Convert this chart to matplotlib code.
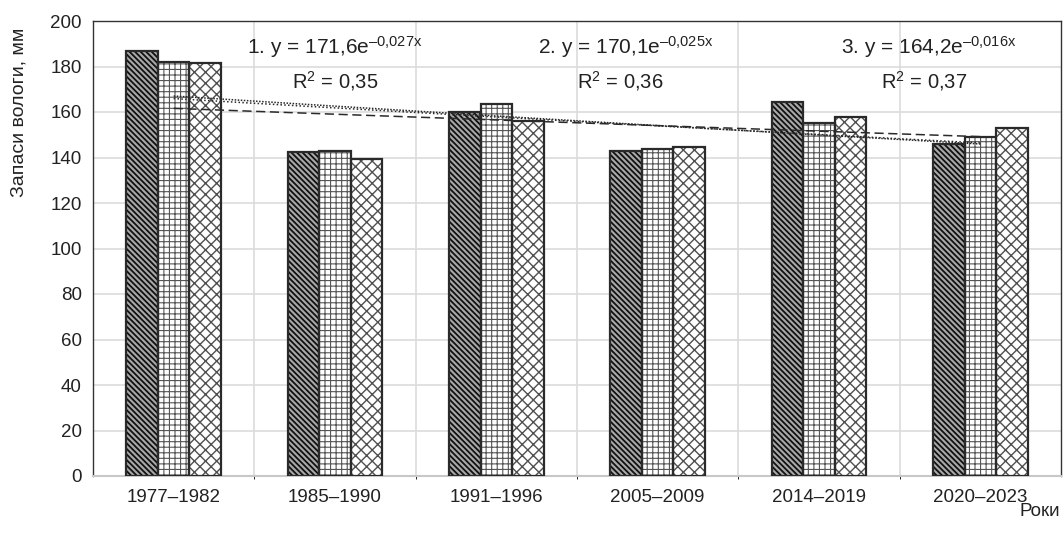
import matplotlib
matplotlib.use("Agg")
import matplotlib.pyplot as plt
import numpy as np

plt.rcParams['font.family'] = ['Liberation Sans', 'DejaVu Sans']
plt.rcParams['mathtext.fontset'] = 'custom'
plt.rcParams['mathtext.rm'] = 'Liberation Sans'
plt.rcParams['mathtext.it'] = 'Liberation Sans'
plt.rcParams['mathtext.default'] = 'regular'

categories = ["1977–1982", "1985–1990", "1991–1996", "2005–2009", "2014–2019", "2020–2023"]
series1 = [186.8, 142.3, 160.0, 142.9, 164.3, 145.9]
series2 = [182.1, 143.0, 163.5, 143.6, 155.3, 148.9]
series3 = [181.7, 139.5, 156.0, 144.8, 157.9, 152.8]
trend_a = [171.6, 170.1, 164.2]
trend_b = [-0.027, -0.025, -0.016]
r2 = ["0,35", "0,36", "0,37"]
eq_b_text = ["–0{,}027x", "–0{,}025x", "–0{,}016x"]
eq_a_text = ["171,6", "170,1", "164,2"]
y_ticks = [0, 20, 40, 60, 80, 100, 120, 140, 160, 180, 200]

fig = plt.figure(figsize=(10.63, 5.34), dpi=100)
ax = fig.add_axes([93/1063, 1-476/534, (1061-93)/1063, (476-21)/534])

x = np.arange(len(categories))
w = 0.195
styles = [
    dict(hatch='\\\\\\\\\\\\', hc='#111111', fc='#a8a8a8', hlw=1.3),
    dict(hatch='+++', hc='#555555', fc='white', hlw=0.8),
    dict(hatch='xxx', hc='#505050', fc='white', hlw=1.0),
]
for i, (vals, st) in enumerate(zip([series1, series2, series3], styles)):
    pos = x + (i - 1) * w
    plt.rcParams['hatch.linewidth'] = st['hlw']
    ax.bar(pos, vals, w, color=st['fc'], edgecolor=st['hc'], hatch=st['hatch'],
           linewidth=0, zorder=3)
    ax.bar(pos, vals, w, fill=False, edgecolor='#2a2a2a', linewidth=1.6, zorder=4)

# trend lines
xt = np.linspace(0, 5, 100)
ls = [(0, (1, 1)), (0, (1, 1.5)), (0, (6, 3))]
for a, b, l in zip(trend_a, trend_b, ls):
    ax.plot(xt, a * np.exp(b * (xt + 1)), color='#2a2a2a', lw=1.1, linestyle=l, zorder=5)

# annotations
eq_x = [1.0, 2.80, 4.68]
r2_x = [1.0, 2.77, 4.65]
for k in range(3):
    ax.text(eq_x[k], 188.5, f"{k+1}. y = {eq_a_text[k]}e$^{{{eq_b_text[k]}}}$",
            ha='center', va='center', fontsize=15, color='#222222', zorder=6)
    ax.text(r2_x[k], 173.5, f"R$^{{2}}$ = {r2[k]}",
            ha='center', va='center', fontsize=14.5, color='#222222', zorder=6)

ax.set_xlim(-0.5, 5.5)
ax.set_ylim(0, 200)
ax.set_yticks(y_ticks)
ax.set_xticks(x)
ax.set_xticklabels(categories)
ax.set_xticks(np.arange(0.5, 5.5, 1), minor=True)
ax.tick_params(axis='both', labelsize=13.5, colors='#222222', length=0)
ax.tick_params(axis='x', pad=9)
ax.tick_params(axis='y', pad=8)
ax.grid(True, axis='y', color='#dcdcdc', lw=1.2, zorder=0)
ax.grid(True, axis='x', which='minor', color='#dcdcdc', lw=1.2, zorder=0)
for s in ['top', 'right', 'left']:
    ax.spines[s].set_color('#333333')
    ax.spines[s].set_linewidth(1.0)
ax.spines['bottom'].set_color('#c8c8c8')
ax.spines['bottom'].set_linewidth(1.5)

ax.set_ylabel("Запаси вологи, мм", fontsize=14, color='#222222')
ax.yaxis.set_label_coords(-0.068, 0.80)
fig.text(1040/1063, 1-511/534, "Роки", ha='center', va='center', fontsize=13.5, color='#222222')

fig.savefig("out.png", dpi=100)
